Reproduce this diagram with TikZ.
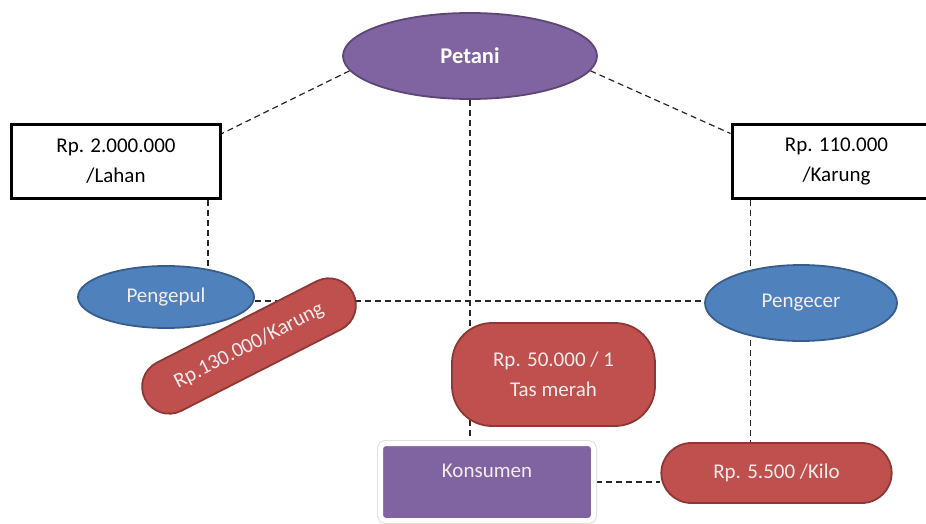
\documentclass[tikz,border=0pt]{standalone}
\usepackage{fontspec}
\setmainfont{Carlito}
\usetikzlibrary{shapes.geometric,shapes.misc,backgrounds}
\definecolor{purp}{HTML}{8064A2}
\definecolor{purpdk}{HTML}{5C4776}
\definecolor{blu}{HTML}{4F81BD}
\definecolor{bludk}{HTML}{385D8A}
\definecolor{rd}{HTML}{C0504D}
\definecolor{rddk}{HTML}{8C3836}
\definecolor{txtlight}{HTML}{F4ECEC}
\tikzset{
  txt/.style={font=\fontsize{21}{30}\selectfont, align=center},
  pricebox/.style={txt, draw=black, line width=3pt, fill=white, minimum width=209pt, minimum height=73pt},
  purpell/.style={ellipse, fill=purp, draw=purpdk, line width=1.8pt, text=white},
  bluell/.style={ellipse, txt, fill=blu, draw=bludk, line width=1.8pt, text=txtlight},
  redpill/.style={rounded rectangle, txt, fill=rd, draw=rddk, line width=1.8pt, text=txtlight},
  redrnd/.style={rectangle, txt, rounded corners=40pt, fill=rd, draw=rddk, line width=1.8pt, text=txtlight},
  link/.style={draw=black!85, line width=1.2pt, dash pattern=on 6pt off 4pt}
}
\begin{document}
\begin{tikzpicture}[x=1pt,y=-1pt]
\useasboundingbox (0,0) rectangle (926,524);
\clip (0,0) rectangle (926,524);

\node[purpell, minimum width=254pt, minimum height=86pt, font=\fontsize{22.5}{27}\selectfont\bfseries] (petani) at (470,56) {Petani};
\node[pricebox] (boxL) at (116,161.5) {Rp. 2.000.000\\/Lahan};
\node[pricebox] (boxR) at (836.5,161.5) {Rp. 110.000\\/Karung};
\node[bluell, minimum width=176pt, minimum height=62pt] (pengepul) at (166,297) {Pengepul};
\node[bluell, minimum width=192pt, minimum height=76pt] (pengecer) at (801,303) {Pengecer};
\node[redpill, rotate=27, minimum width=240pt, minimum height=54pt] (karung) at (249,346) {Rp.130.000/Karung};
\node[redrnd, minimum width=203pt, minimum height=103pt] (tas) at (553.5,374.5) {Rp. 50.000 / 1\\Tas merah};
\node[rectangle, rounded corners=5pt, fill=purp, draw=white, line width=5pt,
      preaction={draw=black!12, line width=7pt},
      minimum width=213pt, minimum height=77pt,
      label={[txt, text=txtlight, yshift=11pt]center:Konsumen}] (konsumen) at (487,482) {};
\node[redpill, minimum width=237pt, minimum height=60pt] (kilo) at (776.5,473) {Rp. 5.500 /Kilo};

\coordinate (l1) at ([xshift=-14pt]boxL.south east);
\coordinate (r1) at ([xshift=20pt]boxR.south west);
\coordinate (h1) at ([yshift=-4pt]pengepul.east);

\begin{scope}[on background layer]
  \draw[link] (petani.187) -- ([yshift=-10pt]boxL.north east);
  \draw[link] (petani.353) -- ([yshift=-10pt]boxR.north west);
  \draw[link] (petani.south) -- (petani.south |- konsumen.north);
  \draw[link] (l1) -- (l1 |- pengepul.center);
  \draw[link] (r1) -- (r1 |- kilo.north);
  \draw[link] (h1) -- (h1 -| pengecer.west);
  \draw[link] (konsumen.east) -- (konsumen.east -| kilo.west);
\end{scope}
\end{tikzpicture}
\end{document}
